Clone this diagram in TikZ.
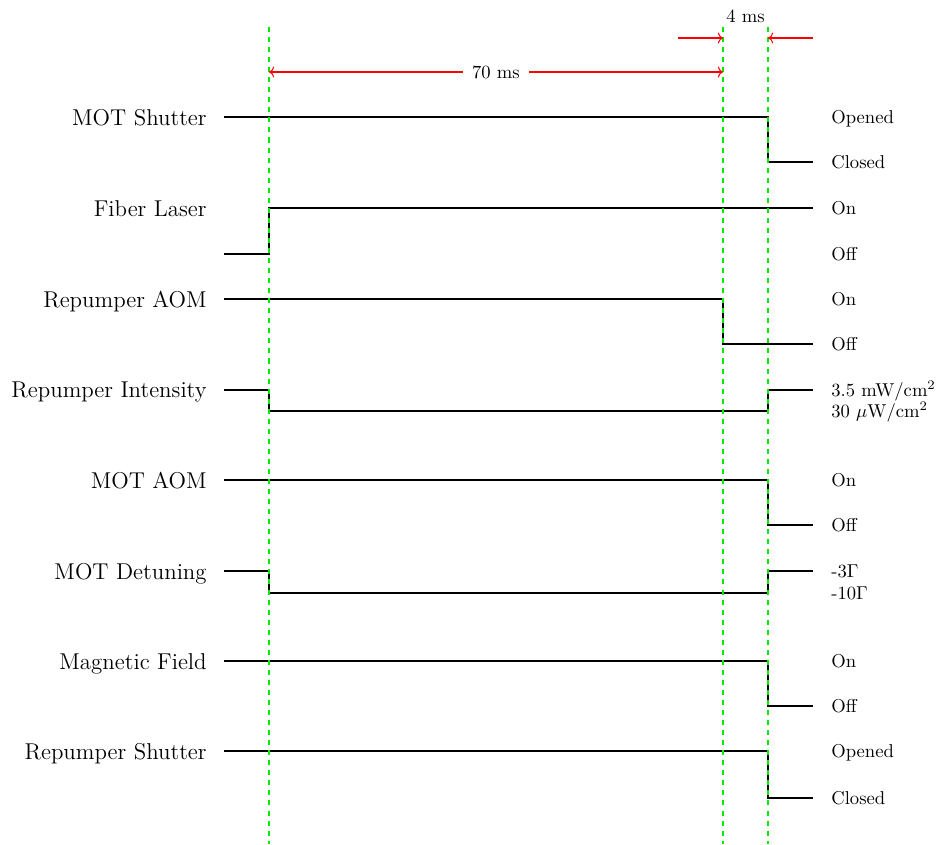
\documentclass[tikz,border=0pt]{standalone}
\usetikzlibrary{arrows.meta}
\definecolor{guide}{RGB}{0,235,0}
\tikzset{
  sig/.style={line width=1.3pt, black, line join=miter},
  guideline/.style={guide, dash pattern=on 2.7pt off 2.7pt, line width=0.6pt},
  dim/.style={red, line width=0.55pt},
  lab/.style={anchor=base east, inner sep=0pt, font=\fontsize{12.3}{15}\selectfont},
  val/.style={anchor=base west, inner sep=0pt, font=\normalsize},
}
\begin{document}
\begin{tikzpicture}[x=0.5376pt, y=-0.5376pt]
\useasboundingbox (0,0) rectangle (938,844);
% MOT Shutter
\node[lab] (l1) at (207,125) {MOT Shutter};
\draw[sig] (224,117) -- (768,117) -- (768,162) -- (813,162);
\node[val] (r1a) at (831,123.5) {Opened};
\node[val] (r1b) at (831,168.5) {Closed};
% Fiber Laser
\node[lab] (l2) at (207,216) {Fiber Laser};
\draw[sig] (224,254) -- (269,254) -- (269,208) -- (813,208);
\node[val] (r2a) at (831,214.5) {On};
\node[val] (r2b) at (831,260.5) {Off};
% Repumper AOM
\node[lab] (l3) at (207,307) {Repumper AOM};
\draw[sig] (224,299) -- (723,299) -- (723,344) -- (813,344);
\node[val] (r3a) at (831,305.5) {On};
\node[val] (r3b) at (831,350.5) {Off};
% Repumper Intensity
\node[lab] (l4) at (207,397) {Repumper Intensity};
\draw[sig] (224,390) -- (269,390) -- (269,411) -- (768,411) -- (768,390) -- (813,390);
\node[val] (r4a) at (831,396.5) {3.5 mW/cm$^2$};
\node[val] (r4b) at (831,417.5) {30 $\mu$W/cm$^2$};
% MOT AOM
\node[lab] (l5) at (207,488) {MOT AOM};
\draw[sig] (224,480) -- (768,480) -- (768,525) -- (813,525);
\node[val] (r5a) at (831,486.5) {On};
\node[val] (r5b) at (831,531.5) {Off};
% MOT Detuning
\node[lab] (l6) at (207,579) {MOT Detuning};
\draw[sig] (224,571) -- (269,571) -- (269,593) -- (768,593) -- (768,571) -- (813,571);
\node[val] (r6a) at (831,577.5) {-3$\Gamma$};
\node[val] (r6b) at (831,599.5) {-10$\Gamma$};
% Magnetic Field
\node[lab] (l7) at (207,669) {Magnetic Field};
\draw[sig] (224,661) -- (768,661) -- (768,706) -- (813,706);
\node[val] (r7a) at (831,667.5) {On};
\node[val] (r7b) at (831,712.5) {Off};
% Repumper Shutter
\node[lab] (l8) at (207,759) {Repumper Shutter};
\draw[sig] (224,751) -- (768,751) -- (768,798) -- (813,798);
\node[val] (r8a) at (831,757.5) {Opened};
\node[val] (r8b) at (831,804.5) {Closed};
% guide lines
\coordinate (g1t) at (269,27); \coordinate (g1b) at (269,844);
\coordinate (g2t) at (723,27); \coordinate (g2b) at (723,844);
\coordinate (g3t) at (768,27); \coordinate (g3b) at (768,844);
\draw[guideline] (g1t) -- (g1b);
\draw[guideline] (g2t) -- (g2b);
\draw[guideline] (g3t) -- (g3b);
% 70 ms
\coordinate (a1) at (269,72); \coordinate (a2) at (723,72);
\draw[dim, <->] (a1) -- (a2);
\node[fill=white, inner xsep=5pt, inner ysep=2.5pt] (t70) at (496,72) {70 ms};
% 4 ms
\coordinate (b0) at (678,38); \coordinate (b1) at (723,38);
\coordinate (b2) at (768,38); \coordinate (b3) at (813,38);
\draw[dim, ->] (b0) -- (b1);
\draw[dim, ->] (b3) -- (b2);
\node[anchor=base, inner sep=0pt] (t4) at (745.5,22) {4 ms};
\end{tikzpicture}
\end{document}
